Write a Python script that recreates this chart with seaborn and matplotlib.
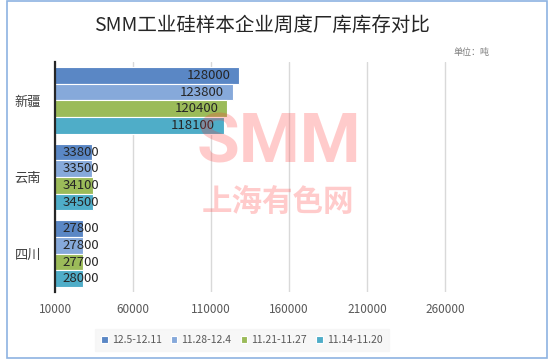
import matplotlib
matplotlib.use('Agg')
import matplotlib.pyplot as plt
import seaborn as sns
import pandas as pd
from matplotlib.patches import Rectangle

# data
regions = ['新疆', '云南', '四川']
weeks = ['12.5-12.11', '11.28-12.4', '11.21-11.27', '11.14-11.20']
stock_1205 = [128000, 33800, 27800]
stock_1128 = [123800, 33500, 27800]
stock_1121 = [120400, 34100, 27700]
stock_1114 = [118100, 34500, 28000]
colors = ['#5a87c5', '#86a9da', '#9bbb59', '#4fadc8']
x_ticks = [10000, 60000, 110000, 160000, 210000, 260000]

df = pd.DataFrame({
    'region': regions * 4,
    'week': [w for w in weeks for _ in regions],
    'stock': stock_1205 + stock_1128 + stock_1121 + stock_1114,
})

sns.set_theme(style='white')
plt.rcParams['font.family'] = ['Noto Sans CJK SC', 'DejaVu Sans']

fig = plt.figure(figsize=(5.5, 3.61), dpi=100)
ax = fig.add_axes([0.1, 0.191, 0.795, 0.637])

sns.barplot(data=df, y='region', x='stock', hue='week', order=regions,
            hue_order=weeks, palette=colors, orient='h', width=0.87,
            edgecolor='white', linewidth=0.8, saturation=1, ax=ax, zorder=2)

ax.set_xlim(10000, 290000)
ax.set_ylim(2.5, -0.5)
ax.set_xticks(x_ticks)
ax.set_xticklabels([str(t) for t in x_ticks], fontsize=8.5, color='#595959')
ax.tick_params(axis='x', length=0, pad=8)
ax.tick_params(axis='y', length=0, pad=10, labelsize=9.5, labelcolor='#404040')
ax.set_xlabel('')
ax.set_ylabel('')
ax.grid(axis='x', color='#d9d9d9', linewidth=1, zorder=0)
for s in ['top', 'right', 'bottom']:
    ax.spines[s].set_visible(False)
ax.spines['left'].set_color('#262626')
ax.spines['left'].set_linewidth(1.6)
ax.spines['left'].set_zorder(5)

# value labels
for cont in ax.containers:
    for bar in cont:
        v = bar.get_width()
        yc = bar.get_y() + bar.get_height() / 2
        if v > 60000:
            ax.text(v - 5500, yc, f'{int(v)}', ha='right', va='center',
                    fontsize=9.5, color='#262626', zorder=6)
        else:
            ax.text(15000, yc, f'{int(v)}', ha='left', va='center',
                    fontsize=9.5, color='#262626', zorder=6)

# watermark
fig.text(0.507, 0.6, 'SMM', fontsize=50, fontweight='bold', color='#ff3333',
         alpha=0.25, ha='center', va='center', family='Roboto', zorder=10)
fig.text(0.505, 0.44, '上海有色网', fontsize=22, fontweight='bold', color='#ff3333',
         alpha=0.25, ha='center', va='center', zorder=10)

leg = ax.legend(loc='center', bbox_to_anchor=(0.44, 0.058),
                bbox_transform=fig.transFigure, ncol=4, fontsize=7.5,
                frameon=True, facecolor='#f5f5f5', edgecolor='#f5f5f5',
                handlelength=0.6, handleheight=0.6, handletextpad=0.4,
                columnspacing=0.9, borderpad=0.6, fancybox=False)
for t in leg.get_texts():
    t.set_color('#595959')

fig.text(0.477, 0.93, 'SMM工业硅样本企业周度厂库库存对比', fontsize=14,
         color='#262626', ha='center', va='center')
fig.text(0.858, 0.855, '单位：吨', fontsize=6.5, color='#7f7f7f',
         ha='center', va='center')

# outer frame
fig.patches.append(Rectangle((0.012, 0.008), 0.982, 0.99, transform=fig.transFigure,
                             fill=False, edgecolor='#8db3e2', linewidth=1.2))

fig.savefig('out.png', dpi=100)
